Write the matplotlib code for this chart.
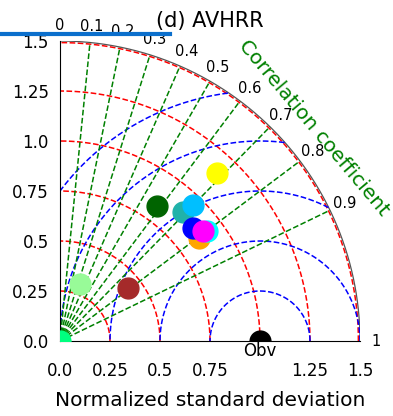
import numpy as np
import matplotlib
matplotlib.use("Agg")
import matplotlib.pyplot as plt
from matplotlib.lines import Line2D

# normalized std and correlation of each product
names = ["ref0", "darkgreen", "lightseagreen", "deepskyblue", "orange", "blue",
         "cyan", "magenta", "yellow", "brown", "palegreen"]
colors = ["springgreen", "darkgreen", "lightseagreen", "deepskyblue", "orange", "blue",
          "cyan", "magenta", "yellow", "brown", "palegreen"]
stds = [0.0, 0.830, 0.888, 0.952, 0.868, 0.870, 0.915, 0.902, 1.150, 0.431, 0.302]
corrs = [1.0, 0.582, 0.690, 0.700, 0.803, 0.762, 0.801, 0.791, 0.681, 0.793, 0.331]

obs_std = 1.0
std_ticks = [0.0, 0.25, 0.5, 0.75, 1.0, 1.25, 1.5]
x_ticklabels = ["0.0", "0.25", "0.5", "0.75", "", "1.25", "1.5"]
y_ticklabels = ["0.0", "0.25", "0.5", "0.75", "1.0", "1.25", "1.5"]
corr_lines = [0.1, 0.2, 0.3, 0.4, 0.5, 0.6, 0.7, 0.8, 0.9]
corr_labels = [0, 0.1, 0.2, 0.3, 0.4, 0.5, 0.6, 0.7, 0.8, 0.9, 1]
rms_levels = [0.25, 0.5, 0.75, 1.0, 1.25]
rmax = 1.5

fig = plt.figure(figsize=(3.93, 4.16), dpi=100)
ax = fig.add_axes([60 / 393, 75 / 416, 300 / 393, 300 / 416])

t = np.linspace(0, np.pi / 2, 300)

# std dev arcs (red); the outermost one sits just inside the border
for r in std_ticks[1:]:
    rr = r - 0.008 if r == rmax else r
    ax.plot(rr * np.cos(t), rr * np.sin(t), "r--", lw=1.1)

# outer boundary
ax.plot(rmax * np.cos(t), rmax * np.sin(t), color="#555555", lw=0.9)

# rms arcs around obs (blue)
tt = np.linspace(0, np.pi, 600)
for r in rms_levels:
    x = obs_std + r * np.cos(tt)
    y = r * np.sin(tt)
    keep = (x >= 0) & (x ** 2 + y ** 2 <= rmax ** 2)
    x = np.where(keep, x, np.nan)
    ax.plot(x, y, "b--", lw=1.1)

# correlation lines (green)
for c in corr_lines:
    a = np.arccos(c)
    ax.plot([0, rmax * np.cos(a)], [0, rmax * np.sin(a)], "g--", lw=1.1)

# correlation labels
for c in corr_labels:
    a = np.arccos(c)
    ax.text(1.58 * np.cos(a), 1.58 * np.sin(a), str(c), ha="center", va="center",
            fontsize=10.5)

ax.text(1.66 * np.cos(np.radians(40)), 1.66 * np.sin(np.radians(40)),
        "Correlation coefficient", rotation=-50, color="green", fontsize=14.5,
        ha="center", va="center", rotation_mode="anchor")

# models
for s, c, col in zip(stds, corrs, colors):
    a = np.arccos(c)
    ax.plot(s * np.cos(a), s * np.sin(a), "o", color=col, ms=15, zorder=5)

ax.plot(obs_std, 0, "o", color="k", ms=15, zorder=5)
ax.text(obs_std, -0.05, "Obv", ha="center", va="center", fontsize=12)

ax.set_xlim(0, rmax)
ax.set_ylim(0, rmax)
ax.set_xticks(std_ticks)
ax.set_xticklabels(x_ticklabels)
ax.set_yticks(std_ticks)
ax.set_yticklabels(y_ticklabels)
ax.tick_params(axis="x", length=0, pad=15, labelsize=12)
ax.tick_params(axis="y", length=0, pad=8, labelsize=12)
ax.spines["top"].set_visible(False)
ax.spines["right"].set_visible(False)
ax.set_xlabel("Normalized standard deviation", fontsize=14.5, labelpad=8)
ax.set_title("(d) AVHRR", fontsize=15, pad=10)

fig.add_artist(Line2D([0, 170 / 393], [0.919, 0.919], color="#0b6fcc", lw=3,
                      transform=fig.transFigure, zorder=10))

fig.savefig("out.png", dpi=100)
